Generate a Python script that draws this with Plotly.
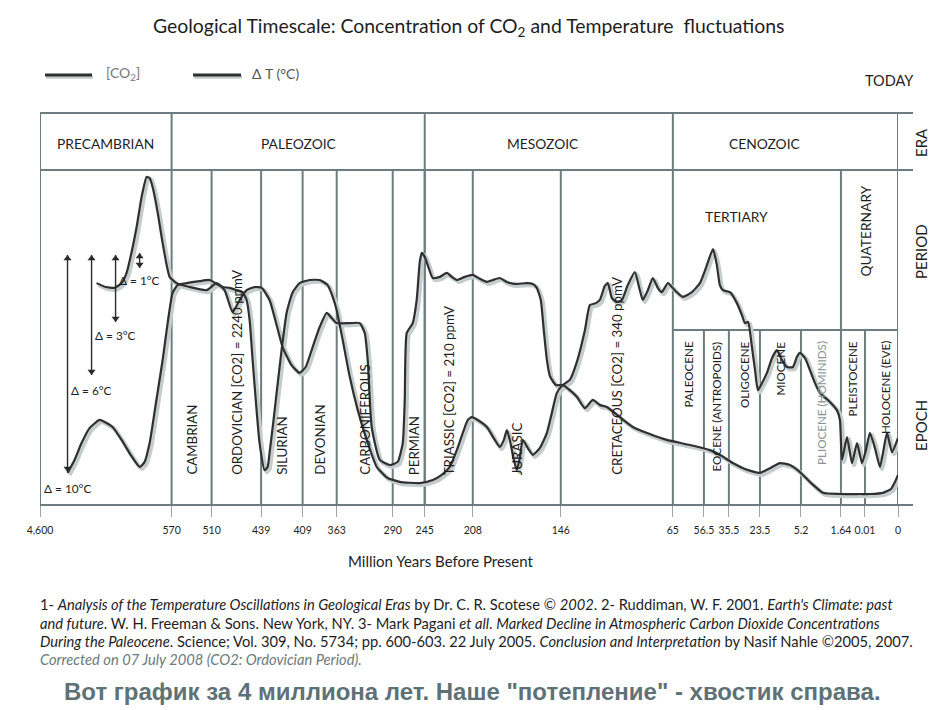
import numpy as np
import plotly.graph_objects as go

# ---------------- data ----------------
AGE_TICKS = [4600, 570, 510, 439, 409, 363, 290, 245, 208, 146, 65, 56.5, 35.5, 23.5, 5.2, 1.64, 0.01, 0]
TICK_TEXT = ["4,600", "570", "510", "439", "409", "363", "290", "245", "208", "146",
             "65", "56.5", "35.5", "23.5", "5.2", "1.64", "0.01", "0"]

ERAS = ["PRECAMBRIAN", "PALEOZOIC", "MESOZOIC", "CENOZOIC"]
ERA_BOUNDS = [4600, 570, 245, 65, 0]
PERIODS = ["CAMBRIAN", "ORDOVICIAN [CO2] = 2240 ppmV", "SILURIAN", "DEVONIAN", "CARBONIFEROUS",
           "PERMIAN", "TRIASSIC [CO2] = 210 ppmV", "JURASIC", "CRETACEOUS [CO2] = 340 ppmV"]
PERIOD_BOUNDS = [570, 510, 439, 409, 363, 290, 245, 208, 146, 65]
CENO_PERIODS = ["TERTIARY", "QUATERNARY"]
CENO_PERIOD_BOUNDS = [65, 1.64, 0]
EPOCHS = ["PALEOCENE", "EOCENE (ANTROPOIDS)", "OLIGOCENE", "MIOCENE", "PLIOCENE (HOMINIDS)",
          "PLEISTOCENE", "HOLOCENE (EVE)"]
EPOCH_BOUNDS = [65, 56.5, 35.5, 23.5, 5.2, 1.64, 0.01, 0]

DELTA_LABELS = ["Δ = 10°C", "Δ = 6°C", "Δ = 3°C", "Δ = 1°C"]

# CO2 curve (relative level 0-100)
CO2_AGE = [2868, 2592, 2317, 2102, 1949, 1796, 1642, 1489, 1336, 1244, 1152, 999, 845, 631,
           562.5, 543, 517.5, 502.8, 491.4, 479.9, 469.8, 459.8, 448.3, 438.6, 432.9, 427.8, 423.5,
           417, 411.2, 404.9, 395.5, 386, 376.5, 369.8, 363, 346, 333, 326.5, 322.6, 317.4, 306.9,
           293.9, 283, 275.9, 273.1, 270.3, 261.9, 256.3, 252, 249.2, 245, 242.7, 238.8, 233.4, 228,
           224.2, 220.3, 214.2, 208, 203.1, 198.1, 193.9, 189, 184, 178.4, 169.9, 165.7, 162.9, 160.1,
           158, 155.8, 153.7, 149.5, 144.6, 139.5, 134.4, 128.6, 122.9, 117.8, 112.7, 103.3, 93.9,
           81.7, 69.4, 60.3, 51.5, 41.4, 34, 29.3, 23.5, 19.0, 14.6, 10.1, 5.66, 4.22, 3.24, 1.73,
           0.35, 0.0085, 0.00455, 0.00212, 0.00091, 0]
CO2_LEVEL = [56.6, 55.6, 55.4, 56.6, 59.2, 64.5, 70.9, 78.6, 83.7, 83.4, 81.1, 74.7, 66.8, 58.2,
             56.6, 55.6, 54.8, 56.6, 54.8, 49.2, 52.3, 54.8, 55.6, 55.4, 52.3, 45.9, 40.3,
             35.7, 33.7, 35.2, 40.3, 45.4, 49.0, 47.7, 46.4, 46.4, 46.4, 43.9, 37.0, 19.9, 11.5,
             10.2, 11.0, 15.8, 26.8, 43.9, 46.4, 52.3, 62.0, 64.3, 63.3, 61.2, 57.9, 58.2, 59.2,
             58.2, 57.4, 58.2, 58.7, 57.7, 56.9, 57.4, 57.9, 56.9, 56.4, 56.6, 56.4, 55.4, 52.3,
             44.6, 37.0, 32.9, 30.6, 30.6, 29.3, 27.6, 24.7, 26.8, 25.5, 25.0, 22.4, 19.9,
             18.1, 16.6, 15.3, 14.0, 12.5, 10.7, 9.2, 8.2, 9.4, 10.7, 10.2, 8.4, 5.4, 3.1, 2.8,
             2.8, 2.8, 3.1, 4.1, 5.9, 7.7]

# Temperature curve (relative level 0-100)
TEMP_AGE = [3757, 3543, 3328, 3083, 2776, 2562, 2378, 2102, 1826, 1550, 1397, 1244, 1060, 845, 692,
            568.5, 561, 547.5, 528, 513, 502.8, 494.2, 484.2, 474.2, 465.5, 459.8, 455.5, 451.2,
            445.5, 441.2, 436.5, 434.3, 432.9, 430, 427.8, 424.2, 420.6, 416.2, 411.2, 399.5, 386,
            375.2, 368.4, 363, 355.2, 346, 335.6, 323.9, 310.8, 296.5, 280.2, 252, 238.8, 231.9,
            225.7, 220.3, 215.7, 211.8, 208.8, 204.5, 198.1, 192.5, 189, 186.1, 184, 181.9, 179.1,
            177, 174.9, 172.8, 169.2, 165.7, 160.8, 155.8, 152.3, 148.8, 144.6, 139.5, 134.4, 128.6,
            125, 120.7, 117.8, 114.2, 112, 109.1, 105.5, 101.9, 97.6, 92.5, 88.9, 86.7, 83.1, 79.5,
            75.9, 73, 68.6, 64.5, 62.3, 59.8, 57.6, 54.8, 48.9, 45.6, 43.1, 40.5, 35.1, 32.4, 30.5,
            29.3, 28.1, 26.6, 25.4, 24.3, 22.6, 20.4, 18.1, 15.9, 13.7, 11.5, 8.8, 7.0, 5.66, 4.84,
            4.4, 3.95, 3.51, 2.8, 2.0, 1.73, 1.57, 1.23, 0.89, 0.55, 0.21, 0.0097, 0.0085, 0.00697,
            0.00545, 0.00333, 0.00182, 0]
TEMP_LEVEL = [8.2, 11.5, 15.8, 19.6, 21.7, 20.9, 19.9, 16.6, 12.8, 9.7, 11.0, 15.8, 25.5, 37.0, 46.4,
              54.1, 56.1, 56.6, 57.1, 57.4, 56.4, 55.6, 55.4, 54.8, 54.3, 52.3, 47.2, 37.0,
              24.2, 15.8, 8.9, 9.7, 13.3, 21.7, 28.6, 39.5, 49.0, 54.3, 56.6, 57.4, 57.4,
              56.1, 53.1, 49.7, 42.1, 32.7, 24.2, 16.6, 9.7, 6.9, 5.9, 5.6, 6.4, 7.7,
              9.7, 14.0, 18.4, 21.7, 22.4, 21.7, 19.9, 16.6, 14.8, 16.6, 19.1, 16.6, 11.5,
              8.9, 12.0, 16.6, 14.5, 12.8, 14.5, 18.4, 23.5, 28.6, 30.6, 31.9, 36.5, 44.6,
              51.0, 51.5, 52.3, 55.9, 56.6, 52.8, 51.8, 52.3, 56.1, 59.4, 54.8, 52.3, 54.8, 57.9,
              55.4, 54.3, 56.6, 54.8, 53.1, 54.3, 56.6, 60.5, 65.3, 61.2, 56.1, 54.8, 54.3, 51.5, 48.5,
              46.4, 46.7, 40.3, 34.4, 29.3, 31.1, 33.7, 37.5, 39.5, 37.0, 35.2, 35.2, 37.8, 38.8, 37.5,
              34.4, 31.1, 28.6, 26.8, 24.2, 21.7, 11.5, 17.3, 10.7, 15.8, 10.7, 14.0, 18.4, 14.5,
              9.7, 18.4, 13.5, 17.1]

# ---------------- custom piecewise time scale ----------------
SCALE_POS = [0, 15.34, 20.0, 25.77, 30.61, 34.58, 41.11, 44.84, 50.44, 60.70,
             73.76, 77.38, 80.29, 83.91, 88.69, 93.35, 96.15, 100]


def pos(age):
    return np.interp(-np.asarray(age, float), -np.array(AGE_TICKS, float), SCALE_POS)


LINE = "#6d7d7f"
CURVE = "#303030"
SHADOW = "#c4cccc"
FONT = "Lato"

PXW = 858.0
PXH = 392.0


def px_x(px):
    return (px - 40.0) / PXW


def px_y(py):
    return (505.0 - py) / PXH


fig = go.Figure()

# shadows (base axes, slightly offset)
for ages, lev in [(CO2_AGE, CO2_LEVEL), (TEMP_AGE, TEMP_LEVEL)]:
    fig.add_trace(go.Scatter(x=pos(ages), y=lev, mode="lines", xaxis="x", yaxis="y",
                             line=dict(color=SHADOW, width=4.2, shape="spline", smoothing=0.5),
                             hoverinfo="skip", showlegend=False))
# main curves
fig.add_trace(go.Scatter(x=pos(CO2_AGE), y=CO2_LEVEL, mode="lines", name="[CO2]", xaxis="x2", yaxis="y2",
                         line=dict(color=CURVE, width=2.2, shape="spline", smoothing=0.5), showlegend=False))
fig.add_trace(go.Scatter(x=pos(TEMP_AGE), y=TEMP_LEVEL, mode="lines", name="ΔT", xaxis="x2", yaxis="y2",
                         line=dict(color=CURVE, width=2.2, shape="spline", smoothing=0.5), showlegend=False))

# delta-T range arrows
arrow_ages = [3757, 3021, 2286, 1550]
arrow_bottoms = [472, 375, 322, 268]
arrow_tops = [255, 255, 255, 253]
label_y = [488, 390, 335, 280]
for i in range(4):
    xa = float(pos(arrow_ages[i]))
    yb = px_y(arrow_bottoms[i]) * 100
    yt = px_y(arrow_tops[i]) * 100
    fig.add_trace(go.Scatter(x=[xa, xa], y=[yb, yt], mode="lines", xaxis="x2", yaxis="y2",
                             line=dict(color="#2a2a2a", width=1.4), hoverinfo="skip", showlegend=False))
    fig.add_trace(go.Scatter(x=[xa, xa], y=[yb + 0.9, yt - 0.9], mode="markers", xaxis="x2", yaxis="y2",
                             marker=dict(symbol=["triangle-down", "triangle-up"], size=7, color="#2a2a2a"),
                             hoverinfo="skip", showlegend=False))

shapes = []


def vline(age, y0, y1):
    shapes.append(dict(type="line", xref="x2", yref="paper", x0=float(pos(age)), x1=float(pos(age)),
                       y0=y0, y1=y1, line=dict(color=LINE, width=2), layer="below"))


def hline(y, x0, x1, xref="paper"):
    shapes.append(dict(type="line", xref=xref, yref="paper", x0=x0, x1=x1, y0=y, y1=y,
                       line=dict(color=LINE, width=2), layer="below"))


era_bottom = px_y(170)
epoch_top = px_y(330)
hline(1.0, 0, px_x(913))
hline(era_bottom, 0, px_x(913))
hline(0.0, 0, px_x(913))
hline(epoch_top, float(pos(65)), float(pos(0)), xref="x2")
for a in ERA_BOUNDS:
    vline(a, 0, 1)
for a in PERIOD_BOUNDS[1:-1] + [CENO_PERIOD_BOUNDS[1]]:
    vline(a, 0, era_bottom)
for a in EPOCH_BOUNDS[1:-1]:
    if a != 1.64:
        vline(a, 0, epoch_top)

# legend samples
for x0, x1 in [(45, 92), (193, 241)]:
    shapes.append(dict(type="line", xref="paper", yref="paper", x0=px_x(x0 + 1), x1=px_x(x1 + 1),
                       y0=px_y(77), y1=px_y(77), line=dict(color=SHADOW, width=3.5)))
    shapes.append(dict(type="line", xref="paper", yref="paper", x0=px_x(x0), x1=px_x(x1),
                       y0=px_y(75), y1=px_y(75), line=dict(color=CURVE, width=3)))

ann = []


def text(x, y, s, size=13, color="#1e1e1e", angle=0, xanchor="center", yanchor="middle",
         xref="paper", yref="paper", family=FONT, align="center"):
    ann.append(dict(x=x, y=y, xref=xref, yref=yref, text=s, showarrow=False, textangle=angle,
                    xanchor=xanchor, yanchor=yanchor, align=align,
                    font=dict(size=size, color=color, family=family)))


# title
text(px_x(468), px_y(27), "Geological Timescale: Concentration of CO<sub>2</sub> and Temperature  fluctuations", size=19.4)
# legend labels
text(px_x(104), px_y(73), "[CO<sub>2</sub>]", size=14, color="#777777", xanchor="left")
text(px_x(250), px_y(73), "Δ T (°C)", size=14, color="#555555", xanchor="left")
# right side labels
text(px_x(889), px_y(80), "TODAY", size=14.5)
text(px_x(921), px_y(142), "ERA", size=15, angle=-90)
text(px_x(921), px_y(251), "PERIOD", size=15, angle=-90)
text(px_x(921), px_y(425), "EPOCH", size=15, angle=-90)

# era labels
era_nudge = [0, 0, -6, -21]
for i, name in enumerate(ERAS):
    mid = (float(pos(ERA_BOUNDS[i])) + float(pos(ERA_BOUNDS[i + 1]))) / 2 + era_nudge[i] / PXW * 100
    text(mid, px_y(143), name, size=13.8, xref="x2")

# period labels (rotated)
for i, name in enumerate(PERIODS):
    mid = (float(pos(PERIOD_BOUNDS[i])) + float(pos(PERIOD_BOUNDS[i + 1]))) / 2
    if name == "PERMIAN":
        mid += 5 / PXW * 100
    text(mid, px_y(477), name, size=13.3, angle=-90, xref="x2", yanchor="bottom")
text((float(pos(65)) + float(pos(1.64))) / 2 - 20 / PXW * 100, px_y(216), CENO_PERIODS[0], size=13.8, xref="x2")
text((float(pos(1.64)) + float(pos(0))) / 2 - 3 / PXW * 100, px_y(231), CENO_PERIODS[1], size=13.8,
     angle=-90, xref="x2")

# epoch labels
for i, name in enumerate(EPOCHS):
    mid = (float(pos(EPOCH_BOUNDS[i])) + float(pos(EPOCH_BOUNDS[i + 1]))) / 2
    if i == len(EPOCHS) - 1:
        mid += 4 / PXW * 100
    col = "#8a9494" if "PLIOCENE" in name else "#1e1e1e"
    text(mid, px_y(339), name, size=11.6, angle=-90, xref="x2", yanchor="top", color=col)

# delta labels
for i in range(4):
    text(float(pos(arrow_ages[i])), px_y(label_y[i]), DELTA_LABELS[i], size=11.8, xref="x2")

# axis title
text(px_x(441), px_y(561), "Million Years Before Present", size=15, color="#1e1e1e")

# footer
foot = [
    "1- <i>Analysis of the Temperature Oscillations in Geological Eras</i> by Dr. C. R. Scotese © <i>2002</i>. 2- Ruddiman, W. F. 2001. <i>Earth's Climate: past</i>",
    "<i>and future</i>. W. H. Freeman &amp; Sons. New York, NY. 3- Mark Pagani <i>et all</i>. <i>Marked Decline in Atmospheric Carbon Dioxide Concentrations</i>",
    "<i>During the Paleocene</i>. Science; Vol. 309, No. 5734; pp. 600-603. 22 July 2005. <i>Conclusion and Interpretation</i> by Nasif Nahle ©2005, 2007.",
]
for i, s in enumerate(foot):
    text(px_x(38), px_y(604 + 18.5 * i), s, size=14.7, xanchor="left", align="left")
text(px_x(38), px_y(659), "<i>Corrected on 07 July 2008 (CO2: Ordovician Period).</i>", size=14.7,
     color="#6b7b7b", xanchor="left", align="left")
text(px_x(472), px_y(691), "<b>Вот график за 4 миллиона лет. Наше \"потепление\" - хвостик справа.</b>",
     size=24, color="#5e7276", family="Liberation Sans")

dx = 2.0 / PXW * 100
dy = 2.0 / PXH * 100
OFF = 8  # page offset of the figure inside the browser window
fig.update_layout(
    width=948 - OFF, height=710 - OFF,
    margin=dict(l=40 - OFF, r=50, t=113 - OFF, b=205),
    paper_bgcolor="white", plot_bgcolor="white",
    showlegend=False,
    xaxis=dict(range=[0 - dx, 100 - dx], visible=False, fixedrange=True),
    yaxis=dict(range=[0 + dy, 100 + dy], visible=False, fixedrange=True),
    xaxis2=dict(range=[0, 100], overlaying="x", showgrid=False, zeroline=False, showline=False,
                tickmode="array", tickvals=[float(v) for v in pos(AGE_TICKS)], ticktext=TICK_TEXT,
                ticks="outside", ticklen=11, tickwidth=1, tickcolor="#9aa6a6",
                tickfont=dict(size=10.5, family=FONT, color="#1e1e1e"), ticklabelstandoff=4),
    yaxis2=dict(range=[0, 100], overlaying="y", visible=False),
    shapes=shapes,
    annotations=ann,
)

fig.write_html("out.html")
